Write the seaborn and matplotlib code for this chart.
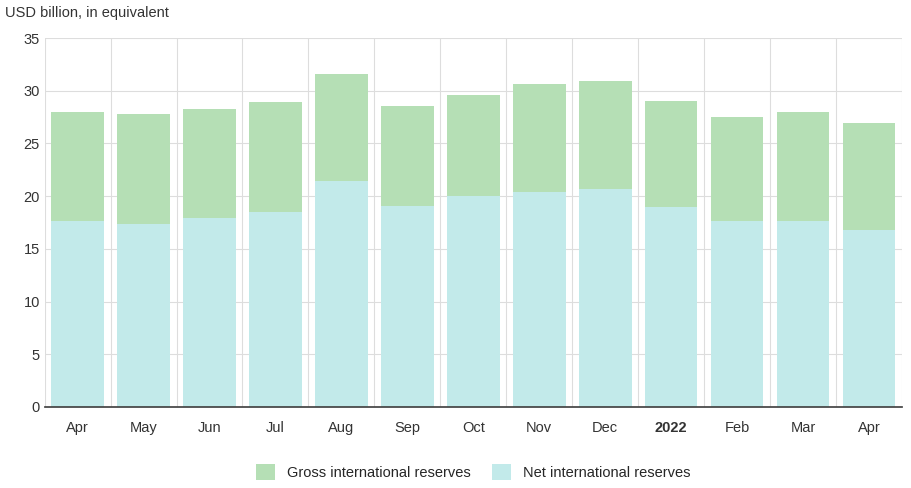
import matplotlib
matplotlib.use("Agg")
import matplotlib.pyplot as plt
import seaborn as sns
import pandas as pd
import numpy as np

months = ["Apr","May","Jun","Jul","Aug","Sep","Oct","Nov","Dec","2022","Feb","Mar","Apr"]
gross = [28.0,27.8,28.3,28.9,31.6,28.6,29.6,30.6,30.9,29.0,27.5,28.0,26.9]
net = [17.6,17.4,17.9,18.5,21.4,19.1,20.0,20.4,20.7,19.0,17.6,17.6,16.8]

sns.set_theme(style="white")
plt.rcParams['font.family'] = ['Liberation Sans', 'DejaVu Sans']

fig = plt.figure(figsize=(9.11,4.88), dpi=100)
ax = fig.add_axes([0.049,0.166,0.941,0.756])
x = [f"{i}" for i in range(len(months))]
df = pd.DataFrame({"x": x, "gross": gross, "net": net})
sns.barplot(data=df, x="x", y="gross", color="#b5dfb5", saturation=1, width=0.8, ax=ax,
            label="Gross international reserves", linewidth=0, edgecolor="none")
sns.barplot(data=df, x="x", y="net", color="#c2eaea", saturation=1, width=0.8, ax=ax,
            label="Net international reserves", linewidth=0, edgecolor="none")
ax.set_ylim(0,35)
ax.set_xlim(-0.5,len(months)-0.5)
ax.set_yticks(range(0,36,5))
ax.set_xticks(range(len(months)))
ax.set_xticklabels(months)
for t, m in zip(ax.get_xticklabels(), months):
    if m == "2022":
        t.set_fontweight("bold")
ax.set_axisbelow(True)
ax.yaxis.grid(True, color="#dddddd", lw=0.8)
for i in range(len(months)+1):
    ax.axvline(i-0.5, color="#dddddd", lw=0.8, zorder=0)
for s in ["top","right","left"]:
    ax.spines[s].set_visible(False)
ax.spines["bottom"].set_color("#444444")
ax.tick_params(axis="both", labelsize=10.5, colors="#333333", length=0)
ax.tick_params(axis="x", pad=10)
ax.set_xlabel(""); ax.set_ylabel("")
fig.text(0.005,0.965,"USD billion, in equivalent", fontsize=10.5, color="#333333")
ax.legend(loc="upper center", bbox_to_anchor=(0.5,-0.12), ncol=2, frameon=False, fontsize=10.5,
          handlelength=1.3, handleheight=1.3, columnspacing=1.5)
fig.savefig("out.png", dpi=100)
